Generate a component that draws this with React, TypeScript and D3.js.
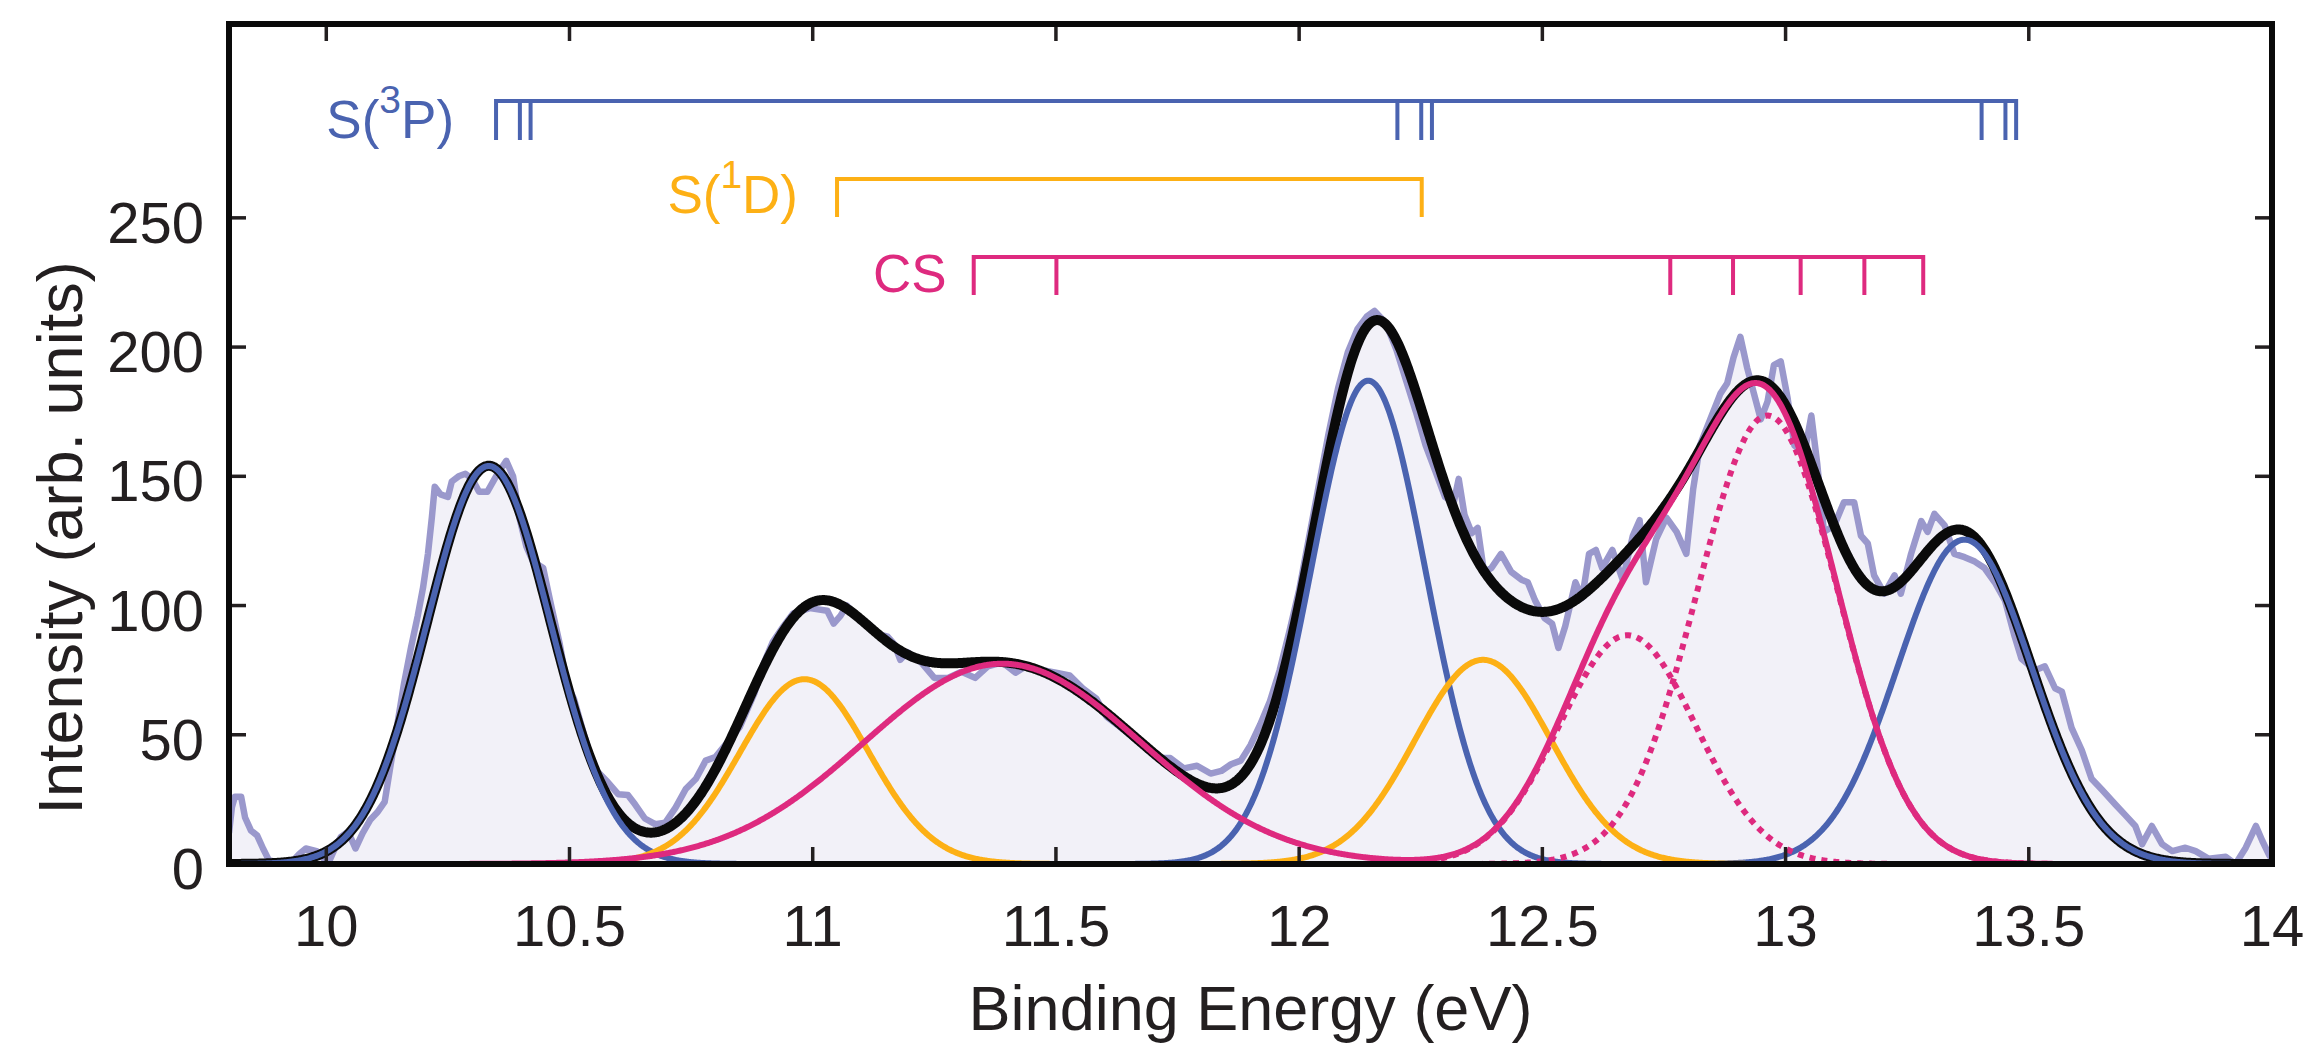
import React from 'react';
import * as d3 from 'd3';

// ---------- data ----------
const xTicks = [10, 10.5, 11, 11.5, 12, 12.5, 13, 13.5, 14];
const xTickLabels = ['10', '10.5', '11', '11.5', '12', '12.5', '13', '13.5', '14'];
const yTicks = [0, 50, 100, 150, 200, 250];
const yTickLabels = ['0', '50', '100', '150', '200', '250'];

// Gaussian fit components: [center (eV), height, sigma (eV)]
const s3pPeaks = [
  [10.334, 154, 0.127],
  [12.142, 187, 0.118],
  [13.368, 125.5, 0.138],
];
const s1dPeaks = [
  [10.983, 71.5, 0.132],
  [12.378, 79, 0.14],
];
const csBroadPeaks = [[11.39, 77.5, 0.285]];
const csDottedPeaks = [
  [12.675, 88.5, 0.14],
  [12.963, 173.5, 0.145],
];

// measured spectrum
const dataE = [
  9.800, 9.806, 9.812, 9.825, 9.833, 9.845, 9.858, 9.870, 9.882, 9.900, 9.930, 9.945, 9.958, 9.980, 9.995,
  10.007, 10.020, 10.030, 10.045, 10.060, 10.075, 10.090, 10.105, 10.120, 10.132, 10.146, 10.160, 10.174,
  10.188, 10.199, 10.209, 10.217, 10.223, 10.235, 10.250, 10.258, 10.272, 10.286, 10.300, 10.314, 10.331,
  10.349, 10.370, 10.384, 10.397, 10.411, 10.425, 10.446, 10.460, 10.480, 10.495, 10.509, 10.530, 10.551,
  10.579, 10.600, 10.620, 10.635, 10.655, 10.676, 10.697, 10.718, 10.739, 10.760, 10.780, 10.800, 10.820,
  10.850, 10.880, 10.900, 10.918, 10.940, 10.960, 10.994, 11.030, 11.043, 11.057, 11.070, 11.090, 11.120,
  11.133, 11.154, 11.168, 11.180, 11.195, 11.223, 11.250, 11.278, 11.306, 11.334, 11.360, 11.390, 11.417,
  11.438, 11.472, 11.500, 11.528, 11.555, 11.583, 11.604, 11.625, 11.652, 11.680, 11.708, 11.735, 11.763,
  11.790, 11.818, 11.840, 11.860, 11.880, 11.900, 11.920, 11.940, 11.960, 11.980, 12.000, 12.020, 12.040,
  12.060, 12.080, 12.100, 12.120, 12.140, 12.155, 12.170, 12.185, 12.200, 12.220, 12.240, 12.260, 12.280,
  12.300, 12.318, 12.328, 12.340, 12.355, 12.367, 12.380, 12.395, 12.415, 12.436, 12.457, 12.470, 12.485,
  12.505, 12.520, 12.533, 12.547, 12.568, 12.582, 12.596, 12.610, 12.623, 12.644, 12.665, 12.686, 12.700,
  12.713, 12.734, 12.755, 12.776, 12.796, 12.810, 12.824, 12.845, 12.866, 12.880, 12.893, 12.907, 12.921,
  12.935, 12.949, 12.963, 12.976, 12.990, 13.004, 13.018, 13.039, 13.053, 13.065, 13.079, 13.100, 13.120,
  13.141, 13.155, 13.169, 13.182, 13.203, 13.224, 13.237, 13.258, 13.279, 13.292, 13.306, 13.327, 13.347,
  13.368, 13.389, 13.409, 13.430, 13.451, 13.471, 13.485, 13.513, 13.533, 13.554, 13.568, 13.588, 13.609,
  13.629, 13.650, 13.678, 13.698, 13.719, 13.733, 13.753, 13.774, 13.795, 13.822, 13.843, 13.870, 13.905,
  13.925, 13.946, 13.967, 13.980, 13.994, 14.000,
];
const dataI = [
  12, 22, 26, 26, 18, 13, 11, 6, 1.5, 0.5, 1, 4, 6, 5, 2,
  1.5, 7, 10.5, 12.5, 6, 12, 17, 20, 24, 38, 54, 70, 83.6,
  96, 107, 120, 134, 146, 143, 142, 148, 150, 151, 149, 144, 144,
  150, 156, 150, 134, 123, 117, 114.5, 102, 85, 69.5, 64, 50, 37,
  31.6, 27, 26.7, 23, 17.6, 15.4, 16, 21.8, 29, 33, 40, 41.4, 46,
  53, 66, 78, 86, 92, 97, 99, 98, 93, 96, 100, 96, 92,
  89, 88, 85, 79, 82, 78, 72, 72, 74.4, 72, 76.5, 78, 74,
  76.5, 75, 74, 73, 68, 64, 57, 54, 50, 45.6, 41, 41, 37,
  38, 35, 36, 38.6, 40, 46, 54, 63, 75, 90, 106, 126, 146,
  166, 184, 198, 207, 212, 214, 211, 206, 199, 187, 175, 162, 152,
  142, 140, 149, 135, 128, 130, 113, 114.5, 120, 113, 110, 109, 102,
  95, 93, 83.6, 92, 109, 103, 120, 121.5, 114.5, 121.5, 110, 127, 133,
  109, 125.7, 134, 128.5, 120, 145, 162, 172, 182, 186, 196, 204, 192,
  182, 172, 179, 193, 194.5, 180.5, 162, 159, 173.5, 155, 128.5, 131, 140,
  140, 127, 124, 111.7, 104.6, 111.7, 104.6, 120, 132.7, 128.5, 135.5, 131, 120,
  118.7, 117, 114.5, 109, 102, 88, 79.4, 75, 76.5, 68, 66.7, 52.7, 44,
  33, 28.8, 23, 19, 14.7, 7.7, 14.7, 7.7, 5, 6.3, 5, 2, 2.8,
  0, 6.3, 14.7, 9, 3.5, 2,
];

// level markers (eV)
const s3pLevels = [10.349, 10.398, 10.42, 12.202, 12.251, 12.273, 13.403, 13.452, 13.474];
const s1dLevels = [11.05, 12.252];
const csLevels = [11.331, 11.501, 12.763, 12.892, 13.031, 13.162, 13.283];

// ---------- styling ----------
const W = 2315;
const H = 1046;
const M = { left: 229, right: 2272, top: 24, bottom: 864 };
const BLUE = '#4a63b0';
const ORANGE = '#fdb015';
const MAGENTA = '#de2a7f';
const LAVENDER = '#9a98cc';
const FILL = '#f2f1f8';
const INK = '#231f20';
const FONT = '"Liberation Sans", Arial, Helvetica, sans-serif';

const gauss = (e: number, p: number[]) => p[1] * Math.exp(-((e - p[0]) ** 2) / (2 * p[2] * p[2]));
const sumOf = (peaks: number[][]) => (e: number) => peaks.reduce((s, p) => s + gauss(e, p), 0);

export default function App() {
  const x = d3.scaleLinear().domain([9.8, 14]).range([M.left, M.right]);
  const y = d3.scaleLinear().domain([0, 325]).range([M.bottom, M.top]);

  const grid = d3.range(9.8, 14.0005, 0.002);
  const s3p = sumOf(s3pPeaks);
  const s1d = sumOf(s1dPeaks);
  const cs = sumOf([...csBroadPeaks, ...csDottedPeaks]);
  const total = (e: number) => s3p(e) + s1d(e) + cs(e);

  const line = d3
    .line<[number, number]>()
    .x((d) => x(d[0]))
    .y((d) => y(d[1]));
  const curve = (f: (e: number) => number) => line(grid.map((e) => [e, f(e)] as [number, number])) || '';

  const data: [number, number][] = dataE.map((e, i) => [e, dataI[i]]);
  const area = d3
    .area<[number, number]>()
    .x((d) => x(d[0]))
    .y0(y(0))
    .y1((d) => y(d[1]));

  const bracket = (levels: number[], top: number, bottom: number) => {
    const xs = levels.map((l) => x(l));
    let d = `M${xs[0]},${bottom}V${top}H${xs[xs.length - 1]}V${bottom}`;
    xs.slice(1, -1).forEach((xx) => {
      d += `M${xx},${top}V${bottom}`;
    });
    return d;
  };

  const tickLen = 17;

  return (
    <svg
      width={W}
      height={H}
      viewBox={`0 0 ${W} ${H}`}
      style={{ position: 'absolute', left: 0, top: 0, display: 'block', background: '#fff' }}
      fontFamily={FONT}
    >
      <defs>
        <clipPath id="plot">
          <rect x={M.left} y={M.top} width={M.right - M.left} height={M.bottom - M.top} />
        </clipPath>
      </defs>

      <g clipPath="url(#plot)">
        <path d={area(data) || ''} fill={FILL} />
        <path d={line(data) || ''} fill="none" stroke={LAVENDER} strokeWidth={6.5} strokeLinejoin="round" />
        <path d={curve(total)} fill="none" stroke="#0a0a0a" strokeWidth={10} strokeLinejoin="round" />
        <path d={curve(s3p)} fill="none" stroke={BLUE} strokeWidth={6} />
        <path d={curve(s1d)} fill="none" stroke={ORANGE} strokeWidth={6} />
        <path d={curve(cs)} fill="none" stroke={MAGENTA} strokeWidth={6} />
        {csDottedPeaks.map((p, i) => (
          <path
            key={i}
            d={curve((e) => gauss(e, p))}
            fill="none"
            stroke={MAGENTA}
            strokeWidth={6}
            strokeDasharray="6 6"
          />
        ))}
      </g>

      {/* level brackets */}
      <path d={bracket(s3pLevels, 101, 140)} fill="none" stroke={BLUE} strokeWidth={4} />
      <path d={bracket(s1dLevels, 179, 217)} fill="none" stroke={ORANGE} strokeWidth={4} />
      <path d={bracket(csLevels, 257, 295)} fill="none" stroke={MAGENTA} strokeWidth={4} />

      <text x={x(s3pLevels[0]) - 42} y={138} textAnchor="end" fontSize={53} fill={BLUE}>
        S(<tspan dy={-25} fontSize={39}>3</tspan>
        <tspan dy={25}>P)</tspan>
      </text>
      <text x={x(s1dLevels[0]) - 39} y={213} textAnchor="end" fontSize={53} fill={ORANGE}>
        S(<tspan dy={-25} fontSize={39}>1</tspan>
        <tspan dy={25}>D)</tspan>
      </text>
      <text x={x(csLevels[0]) - 27} y={292} textAnchor="end" fontSize={53} fill={MAGENTA}>
        CS
      </text>

      {/* ticks */}
      <g stroke={INK} strokeWidth={3.5}>
        {xTicks
          .filter((t) => t < 14)
          .map((t) => (
            <g key={t}>
              <line x1={x(t)} x2={x(t)} y1={M.bottom} y2={M.bottom - tickLen} />
              <line x1={x(t)} x2={x(t)} y1={M.top} y2={M.top + tickLen} />
            </g>
          ))}
        {yTicks
          .filter((t) => t > 0)
          .map((t) => (
            <g key={t}>
              <line x1={M.left} x2={M.left + tickLen} y1={y(t)} y2={y(t)} />
              <line x1={M.right} x2={M.right - tickLen} y1={y(t)} y2={y(t)} />
            </g>
          ))}
      </g>

      {/* frame */}
      <rect
        x={M.left}
        y={M.top}
        width={M.right - M.left}
        height={M.bottom - M.top}
        fill="none"
        stroke="#0a0a0a"
        strokeWidth={6}
      />

      {/* tick labels */}
      <g fill={INK} fontSize={58}>
        {xTicks.map((t, i) => (
          <text key={t} x={x(t)} y={946} textAnchor="middle">
            {xTickLabels[i]}
          </text>
        ))}
        {yTicks.map((t, i) => (
          <text key={t} x={M.left - 25} y={y(t) + 25} textAnchor="end">
            {yTickLabels[i]}
          </text>
        ))}
      </g>

      {/* axis titles */}
      <text x={(M.left + M.right) / 2} y={1030} textAnchor="middle" fontSize={63} fill={INK}>
        Binding Energy (eV)
      </text>
      <text transform="translate(82,538) rotate(-90)" textAnchor="middle" fontSize={63} fill={INK}>
        Intensity (arb. units)
      </text>
    </svg>
  );
}
